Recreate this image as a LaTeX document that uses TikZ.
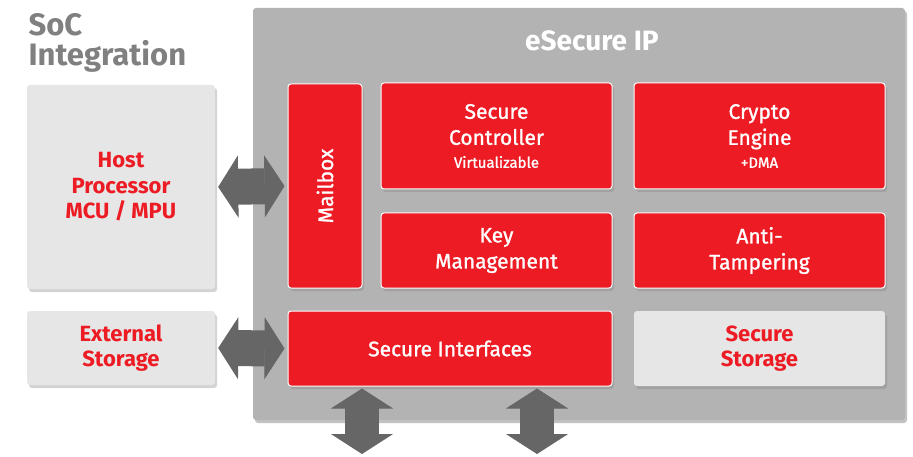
\documentclass[tikz,border=0pt]{standalone}
\usepackage{fontspec}
\setmainfont{Fira Sans}
\newfontfamily\medfont{Fira Sans}[FakeBold=1.2]
\usetikzlibrary{arrows.meta,shadows}
\definecolor{esred}{HTML}{ED1C24}
\definecolor{esgray}{HTML}{B3B3B3}
\definecolor{eslight}{HTML}{E6E6E6}
\definecolor{esdark}{HTML}{666666}
\definecolor{estitle}{HTML}{808080}

\begin{document}
\begin{tikzpicture}[x=1pt,y=-1pt,
  blk/.style={rounded corners=3pt,inner sep=0pt,align=center,
    drop shadow={opacity=.35,shadow xshift=2pt,shadow yshift=-3pt}},
  redbox/.style={blk,fill=esred,draw=white,line width=1pt,text=white,
    font=\fontsize{21}{26}\medfont},
  graybox/.style={blk,fill=eslight,text=esred,font=\fontsize{22}{25.5}\selectfont\bfseries},
  fatarrow/.style={draw=esdark,fill=esdark,line width=36pt,line join=round,
    {Triangle[length=20pt,width=62pt,line width=1pt]}-{Triangle[length=20pt,width=62pt,line width=1pt]}}]
\useasboundingbox (0,0) rectangle (913,457);
%\draw[help lines] (0,0) grid[step=50] (913,457);
\node[anchor=west,align=left,text=estitle,font=\fontsize{31}{30}\selectfont\bfseries] (soc) at (25,43) {SoC\\Integration};
\node[blk,fill=esgray,minimum width=652,minimum height=412,
  drop shadow={opacity=.2,shadow xshift=2pt,shadow yshift=-3pt}] (ip) at (579,214) {};
\node[text=white,font=\fontsize{28}{30}\selectfont\bfseries] (iptitle) at (592,41) {eSecure IP};
% left side
\node[graybox,minimum width=188,minimum height=204] (host) at (121,187) {Host\\Processor\\MCU / MPU};
\node[graybox,minimum width=188,minimum height=74] (ext) at (121,348) {External\\Storage};
% inside the IP
\node[redbox,rotate=90,minimum width=204,minimum height=74] (mbox) at (325,186) {Mailbox};
\node[redbox,minimum width=231,minimum height=106] (ctrl) at (496.5,136) {Secure\\Controller\\[-3pt]{\fontsize{15}{18}\medfont Virtualizable}};
\node[redbox,minimum width=251,minimum height=106] (crypto) at (759.5,136) {Crypto\\Engine\\[-3pt]{\fontsize{15}{18}\medfont +DMA}};
\node[redbox,minimum width=231,minimum height=75] (keys) at (496.5,250.5) {Key\\Management};
\node[redbox,minimum width=251,minimum height=75] (anti) at (759.5,250.5) {Anti-\\Tampering};
\node[redbox,minimum width=324,minimum height=75] (sif) at (450,348.5) {Secure Interfaces};
\node[graybox,minimum width=251,minimum height=75] (sstor) at (759.5,348.5) {Secure\\Storage};
% arrows
\draw[fatarrow,shorten <=3pt,shorten >=3pt] (host.east) -- (mbox.north);
\draw[fatarrow,shorten <=3pt,shorten >=3pt] (ext.east) -- (sif.west);
\foreach \x [count=\i] in {362,537}
{
	\coordinate (out\i) at (\x,455);
	\draw[fatarrow,line width=34pt,shorten <=2pt,shorten >=1pt] (sif.south -| out\i) -- (out\i);
}
\end{tikzpicture}
\end{document}
